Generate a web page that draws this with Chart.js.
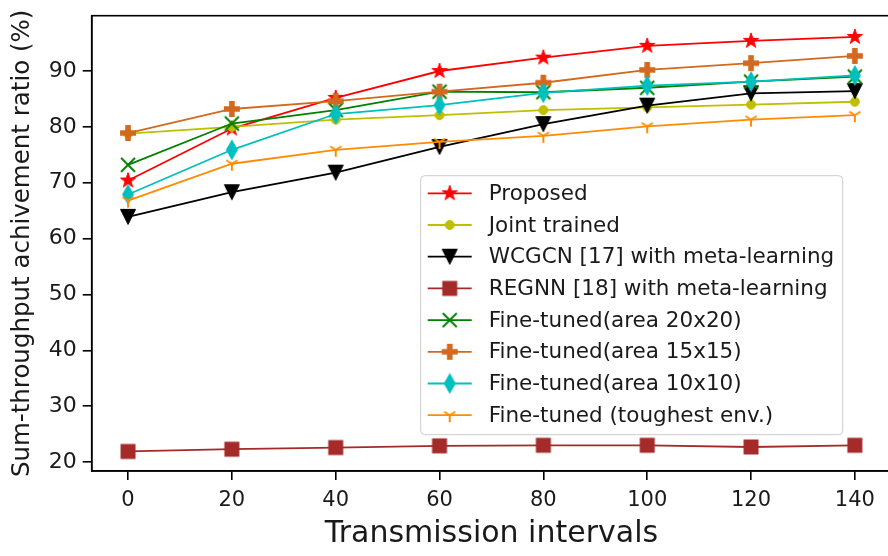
<!DOCTYPE html>
<html>
<head>
<meta charset="utf-8">
<script src="https://cdn.jsdelivr.net/npm/chart.js@4.4.1/dist/chart.umd.min.js"></script>
<style>
html, body { margin: 0; padding: 0; background: #fff; overflow: hidden; }
canvas { display: block; }
</style>
</head>
<body>
<canvas id="chart" width="900" height="556"></canvas>
<script>
const intervals = [0, 20, 40, 60, 80, 100, 120, 140];
const yTicks = [20, 30, 40, 50, 60, 70, 80, 90];

const proposed = [70.4, 79.7, 85.2, 90.0, 92.4, 94.5, 95.4, 96.1];
const jointTrained = [78.8, 80.0, 81.3, 82.1, 83.0, 83.5, 84.0, 84.5];
const wcgcnMeta = [63.9, 68.3, 71.8, 76.4, 80.5, 83.8, 86.0, 86.4];
const regnnMeta = [21.9, 22.3, 22.6, 22.9, 23.0, 23.0, 22.7, 23.0];
const ft20 = [73.2, 80.6, 83.0, 86.3, 86.2, 87.0, 88.1, 89.0];
const ft15 = [78.9, 83.2, 84.6, 86.3, 87.9, 90.2, 91.4, 92.7];
const ft10 = [67.9, 75.9, 82.3, 83.9, 86.1, 87.4, 88.1, 89.2];
const ftTough = [66.8, 73.4, 75.9, 77.3, 78.4, 80.1, 81.3, 82.1];

const seriesNames = [
	'Proposed',
	'Joint trained',
	'WCGCN [17] with meta-learning',
	'REGNN [18] with meta-learning',
	'Fine-tuned(area 20x20)',
	'Fine-tuned(area 15x15)',
	'Fine-tuned(area 10x10)',
	'Fine-tuned (toughest env.)'
];
const seriesValues = [proposed, jointTrained, wcgcnMeta, regnnMeta, ft20, ft15, ft10, ftTough];
const seriesColors = ['#ff0000', '#bfbf00', '#000000', '#a52a2a', '#008000', '#d2691e', '#00bfbf', '#ff8c00'];
const seriesMarkers = ['star', 'circle', 'triangleDown', 'square', 'x', 'plus', 'thinDiamond', 'tri'];

const FONT = "'DejaVu Sans', sans-serif";

// matplotlib-like marker glyphs, drawn once on small canvases
function makeMarker(kind, color)
{
	const c = document.createElement('canvas');
	c.width = 26;
	c.height = 26;
	const ctx = c.getContext('2d');
	ctx.translate(13, 13);
	ctx.fillStyle = color;
	ctx.strokeStyle = color;
	ctx.lineWidth = 1;
	ctx.beginPath();
	let r;
	switch (kind)
	{
		case 'star':
			r = 8;
			for (let i = 0; i < 10; i++)
			{
				const a = -Math.PI / 2 + i * Math.PI / 5;
				const rr = (i % 2) ? r * 0.382 : r;
				ctx.lineTo(rr * Math.cos(a), rr * Math.sin(a));
			}
			ctx.closePath();
			ctx.fill();
			ctx.stroke();
			break;
		case 'circle':
			ctx.arc(0, 0, 4.5, 0, Math.PI * 2);
			ctx.fill();
			ctx.stroke();
			break;
		case 'triangleDown':
			r = 7.5;
			ctx.moveTo(-r, -r);
			ctx.lineTo(r, -r);
			ctx.lineTo(0, r);
			ctx.closePath();
			ctx.fill();
			ctx.stroke();
			break;
		case 'square':
			ctx.rect(-7.5, -7.5, 15, 15);
			ctx.fill();
			break;
		case 'x':
			r = 7;
			ctx.lineWidth = 2;
			ctx.moveTo(-r, -r);
			ctx.lineTo(r, r);
			ctx.moveTo(r, -r);
			ctx.lineTo(-r, r);
			ctx.stroke();
			break;
		case 'plus':
			r = 8;
			const w = 2.8;
			ctx.moveTo(-w, -r); ctx.lineTo(w, -r); ctx.lineTo(w, -w); ctx.lineTo(r, -w);
			ctx.lineTo(r, w); ctx.lineTo(w, w); ctx.lineTo(w, r); ctx.lineTo(-w, r);
			ctx.lineTo(-w, w); ctx.lineTo(-r, w); ctx.lineTo(-r, -w); ctx.lineTo(-w, -w);
			ctx.closePath();
			ctx.fill();
			break;
		case 'thinDiamond':
			ctx.moveTo(0, -10.5);
			ctx.lineTo(6, 0);
			ctx.lineTo(0, 10.5);
			ctx.lineTo(-6, 0);
			ctx.closePath();
			ctx.fill();
			break;
		case 'tri':
			r = 7;
			ctx.lineWidth = 2;
			ctx.moveTo(0, 0); ctx.lineTo(0, r);
			ctx.moveTo(0, 0); ctx.lineTo(-r * 0.8, -r * 0.5);
			ctx.moveTo(0, 0); ctx.lineTo(r * 0.8, -r * 0.5);
			ctx.stroke();
			break;
	}
	return c;
}

const markerImages = seriesMarkers.map((m, i) => makeMarker(m, seriesColors[i]));

const datasets = seriesNames.map((name, i) => ({
	label: name,
	data: intervals.map((x, j) => ({ x: x, y: seriesValues[i][j] })),
	borderColor: seriesColors[i],
	backgroundColor: seriesColors[i],
	borderWidth: 1.8,
	pointStyle: markerImages[i],
	pointRadius: 7,
	tension: 0,
	fill: false,
	order: seriesNames.length - i
}));

const framePlugin = {
	id: 'frame',
	afterDraw(chart)
	{
		const a = chart.chartArea;
		const ctx = chart.ctx;
		ctx.save();
		ctx.strokeStyle = '#000';
		ctx.lineWidth = 1.6;
		ctx.strokeRect(a.left, a.top, a.right - a.left, a.bottom - a.top);
		ctx.restore();
	}
};

const legendPlugin = {
	id: 'mplLegend',
	afterDraw(chart)
	{
		const ctx = chart.ctx;
		const a = chart.chartArea;
		const bx = a.left + 329, by = a.top + 160, bw = 422, bh = 259;
		ctx.save();
		ctx.beginPath();
		ctx.roundRect(bx, by, bw, bh, 4);
		ctx.fillStyle = 'rgba(255,255,255,0.85)';
		ctx.fill();
		ctx.strokeStyle = '#cccccc';
		ctx.lineWidth = 1;
		ctx.stroke();
		ctx.font = '21.5px ' + FONT;
		ctx.textBaseline = 'middle';
		ctx.textAlign = 'left';
		for (let i = 0; i < seriesNames.length; i++)
		{
			const y = by + 17.6 + i * 31.7;
			ctx.beginPath();
			ctx.strokeStyle = seriesColors[i];
			ctx.lineWidth = 1.8;
			ctx.moveTo(bx + 7, y);
			ctx.lineTo(bx + 51, y);
			ctx.stroke();
			const img = markerImages[i];
			ctx.drawImage(img, bx + 29 - img.width / 2, y - img.height / 2);
			ctx.fillStyle = '#1a1a1a';
			ctx.fillText(seriesNames[i], bx + 68, y + 1);
		}
		ctx.restore();
	}
};

new Chart(document.getElementById('chart'), {
	type: 'line',
	data: { datasets: datasets },
	options: {
		responsive: false,
		animation: false,
		layout: { padding: { left: 0, top: 15.7, right: 7.3, bottom: 0 } },
		plugins: { legend: { display: false }, tooltip: { enabled: false } },
		scales: {
			x: {
				type: 'linear',
				min: -7,
				max: 147,
				afterBuildTicks: (s) => { s.ticks = intervals.map(v => ({ value: v })); },
				afterFit: (s) => { s.height = 85; s.paddingLeft = 0; s.paddingRight = 0; },
				grid: { drawOnChartArea: false, drawTicks: true, tickLength: 9, color: '#000', lineWidth: 1.6 },
				border: { display: true, color: '#000', width: 1.6 },
				ticks: { color: '#1a1a1a', font: { family: FONT, size: 21 }, padding: 8, maxRotation: 0, autoSkip: false },
				title: { display: true, text: 'Transmission intervals', color: '#1a1a1a', font: { family: FONT, size: 30 }, padding: { top: 0, bottom: 4 } }
			},
			y: {
				type: 'linear',
				min: 18.4,
				max: 99.9,
				afterBuildTicks: (s) => { s.ticks = yTicks.map(v => ({ value: v })); },
				afterFit: (s) => { s.width = 91.7; s.paddingTop = 0; s.paddingBottom = 0; },
				grid: { drawOnChartArea: false, drawTicks: true, tickLength: 9, color: '#000', lineWidth: 1.6 },
				border: { display: true, color: '#000', width: 1.6 },
				ticks: { color: '#1a1a1a', font: { family: FONT, size: 22 }, padding: 6 },
				title: { display: true, text: 'Sum-throughput achivement ratio (%)', color: '#1a1a1a', font: { family: FONT, size: 24.5 }, padding: { top: 8, bottom: 0 } }
			}
		}
	},
	plugins: [framePlugin, legendPlugin]
});
</script>
</body>
</html>
